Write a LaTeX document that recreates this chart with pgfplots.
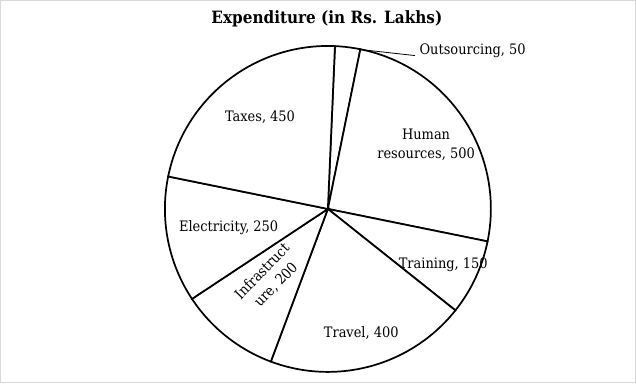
\documentclass[border=0pt]{standalone}
\usepackage{fontspec}
\setmainfont{DejaVu Serif Condensed}
\usepackage{pgfplots}
\pgfplotsset{compat=1.18}
% slice: #1 = sum of values before it, #2 = value (total 2000)
\newcommand\slice[2]{%
  \draw[line width=1.7bp, fill=white] (326,177.5) -- ++({87.5-0.18*(#1)}:161)
    arc[start angle={87.5-0.18*(#1)}, delta angle={-0.18*(#2)}, radius=161] -- cycle;}
\begin{document}
\begin{tikzpicture}
\begin{axis}[scale only axis, width=636bp, height=389bp,
  xmin=0, xmax=636, ymin=0, ymax=389, hide axis, clip=false]
\draw[black!15, line width=0.8bp] (2.5,383.5) rectangle (630,6);
\slice{0}{50}
\slice{50}{500}
\slice{550}{150}
\slice{700}{400}
\slice{1100}{200}
\slice{1300}{250}
\slice{1550}{450}
\draw[line width=0.8bp] (358,335) -- (412,329);
\begin{scope}[every node/.style={font=\fontsize{14.3}{19}\selectfont, align=center, inner sep=0pt}]
\node at (325,365) {\fontsize{16.8}{19}\selectfont\bfseries Expenditure (in Rs. Lakhs)};
\node at (469,334) {Outsourcing, 50};
\node at (423,241) {Human\\resources, 500};
\node at (440,122) {Training, 150};
\node at (359,55) {Travel, 400};
\node[rotate=46] at (268,109) {Infrastruct\\ure, 200};
\node at (228,159) {Electricity, 250};
\node at (259,268) {Taxes, 450};
\end{scope}
\end{axis}
\end{tikzpicture}
\end{document}
